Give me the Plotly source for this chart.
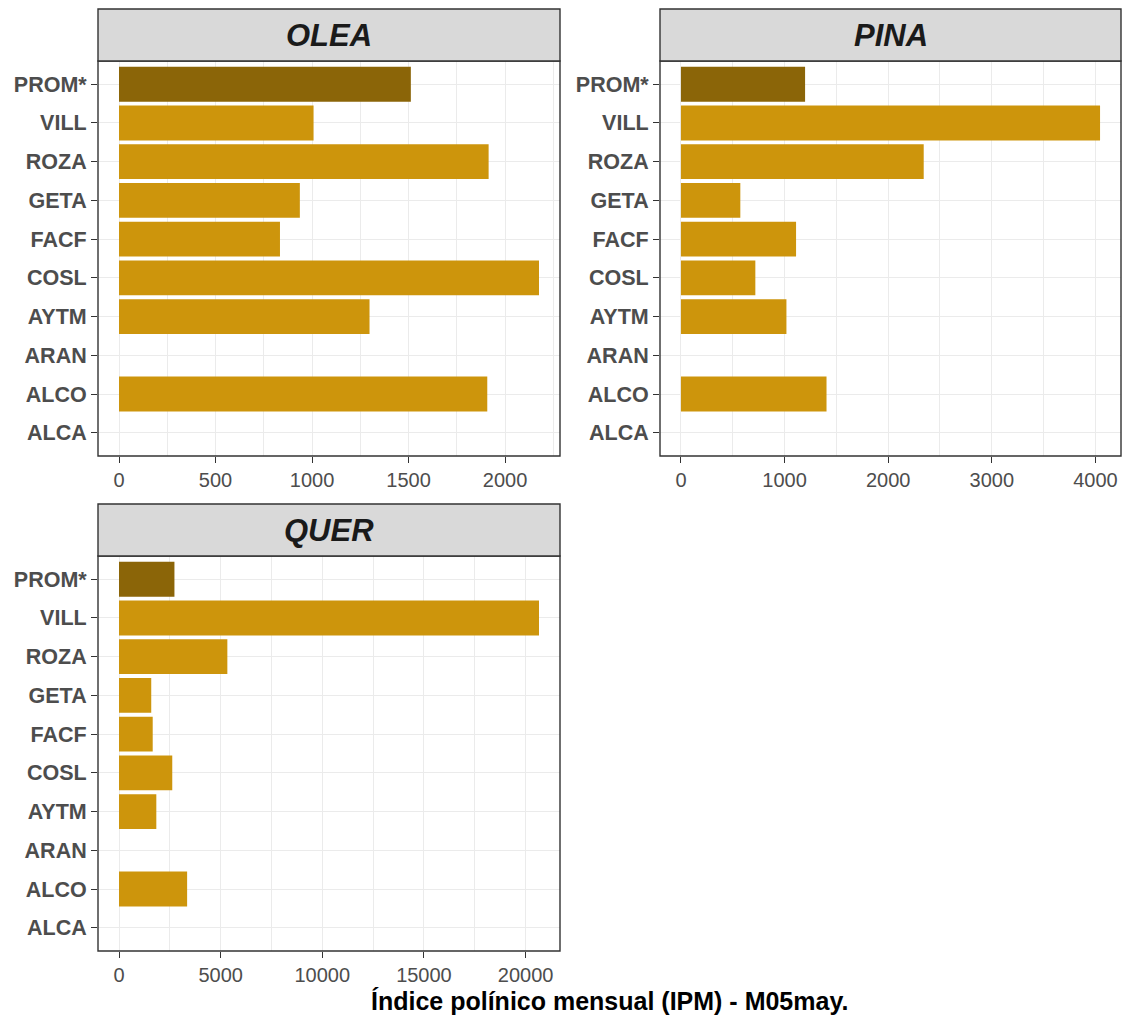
import plotly.graph_objects as go

# ---------------- data ----------------
stations = ["PROM*", "VILL", "ROZA", "GETA", "FACF", "COSL", "AYTM", "ARAN", "ALCO", "ALCA"]
olea = [1512, 1008, 1915, 937, 834, 2176, 1298, None, 1908, None]
pina = [1198, 4045, 2343, 573, 1111, 718, 1018, None, 1405, None]
quer = [2727, 20660, 5330, 1586, 1658, 2620, 1836, None, 3351, None]
panels = ["OLEA", "PINA", "QUER"]
major_dtick = [500, 1000, 5000]
x_title = "Índice polínico mensual (IPM) - M05may."

C_STATION = "#CD950C"
C_PROM = "#8B6508"

W, H = 1124, 1021
FONT = "Liberation Sans, Arial, Helvetica, sans-serif"

def px_x(v):
    return v / W

def px_y(v):
    return 1 - v / H

# panel boxes in pixels (left, right, top, bottom)
boxes = [(98, 560, 61, 456), (660, 1121, 61, 456), (98, 560, 556, 951)]
strip_h = 52

fig = go.Figure()
series = [olea, pina, quer]
cat_order = list(reversed(stations))

for i, (name, vals, dt, box) in enumerate(zip(panels, series, major_dtick, boxes)):
    sfx = "" if i == 0 else str(i + 1)
    colors = [C_PROM if s.startswith("PROM") else C_STATION for s in stations]
    fig.add_trace(go.Bar(
        x=vals, y=stations, orientation="h",
        marker=dict(color=colors, line=dict(width=0)),
        width=0.9, xaxis="x" + sfx, yaxis="y" + sfx, showlegend=False,
    ))
    mx = max(v for v in vals if v is not None)
    l, r, t, b = box
    fig.layout["xaxis" + sfx] = dict(
        domain=[px_x(l), px_x(r)], anchor="y" + sfx,
        range=[-0.05 * mx, 1.05 * mx],
        tick0=0, dtick=dt, tickformat="d",
        showgrid=True, gridcolor="#EBEBEB", gridwidth=1.3,
        minor=dict(dtick=dt / 2, tick0=0, showgrid=True, gridcolor="#EBEBEB", gridwidth=0.6, ticklen=0),
        ticks="outside", ticklen=6, tickwidth=1.3, tickcolor="#333333",
        tickfont=dict(family=FONT, size=20, color="#4D4D4D"),
        zeroline=False, showline=False, fixedrange=True,
    )
    fig.layout["yaxis" + sfx] = dict(
        domain=[px_y(b), px_y(t)], anchor="x" + sfx,
        type="category", categoryorder="array", categoryarray=cat_order,
        range=[-0.6, len(stations) - 0.4],
        showgrid=True, gridcolor="#EBEBEB", gridwidth=1.3,
        ticks="outside", ticklen=6, tickwidth=1.3, tickcolor="#333333",
        tickfont=dict(family=FONT, size=21.5, color="#4D4D4D", weight="bold"),
        zeroline=False, showline=False, fixedrange=True,
    )
    # panel border
    fig.add_shape(type="rect", xref="paper", yref="paper",
                  x0=px_x(l), x1=px_x(r), y0=px_y(b), y1=px_y(t),
                  line=dict(color="#333333", width=1.4), fillcolor="rgba(0,0,0,0)", layer="above")
    # strip
    fig.add_shape(type="rect", xref="paper", yref="paper",
                  x0=px_x(l), x1=px_x(r), y0=px_y(t), y1=px_y(t - strip_h),
                  line=dict(color="#333333", width=1.4), fillcolor="#D9D9D9", layer="above")
    fig.add_annotation(text=name, xref="paper", yref="paper",
                       x=px_x((l + r) / 2), y=px_y(t - strip_h / 2),
                       xanchor="center", yanchor="middle", showarrow=False,
                       font=dict(family=FONT, size=31, color="#1A1A1A", weight="bold", style="italic"))

fig.add_annotation(text=x_title, xref="paper", yref="paper",
                   x=px_x((98 + 1121) / 2), y=px_y(1001),
                   xanchor="center", yanchor="middle", showarrow=False,
                   font=dict(family=FONT, size=25, color="#000000", weight="bold"))

fig.update_layout(
    width=W, height=H, margin=dict(l=0, r=0, t=0, b=0),
    paper_bgcolor="white", plot_bgcolor="white", bargap=0.1,
)

fig.write_html("out.html", config={"displayModeBar": False},
               post_script="document.body.style.margin='0';document.body.style.overflow='hidden';")
